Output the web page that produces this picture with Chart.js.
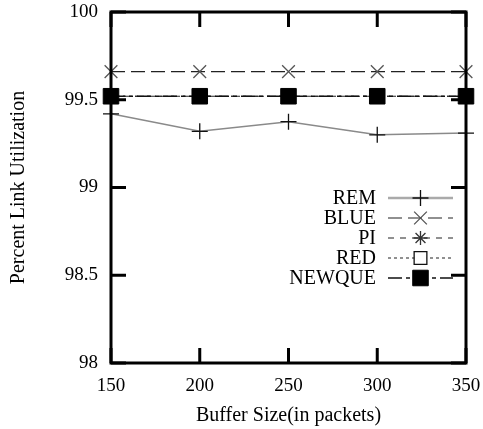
<!DOCTYPE html>
<html>
<head>
<meta charset="utf-8">
<script src="https://cdn.jsdelivr.net/npm/chart.js@4"></script>
<style>
  html, body { margin: 0; padding: 0; background: #fff; }
  #wrap { width: 483px; height: 429px; }
</style>
</head>
<body>
<div id="wrap"><canvas id="utilChart" width="483" height="429"></canvas></div>
<script>
// Buffer sizes on the x axis
const bufferSizes = [150, 200, 250, 300, 350];

// Percent link utilization per queue scheme
const remUtil = [99.42, 99.32, 99.375, 99.30, 99.31];
const blueUtil = [99.66, 99.66, 99.66, 99.66, 99.66];
const piUtil = [99.52, 99.52, 99.52, 99.52, 99.52];
const redUtil = [99.52, 99.52, 99.52, 99.52, 99.52];
const newqueUtil = [99.52, 99.52, 99.52, 99.52, 99.52];

const yTicks = [98, 98.5, 99, 99.5, 100];

const serif = '"Liberation Serif", "Times New Roman", serif';

function toPoints(values) {
  return bufferSizes.map((x, i) => ({ x: x, y: values[i] }));
}

// frame + inward ticks like the gnuplot original
const framePlugin = {
  id: "frame",
  afterDatasetsDraw(chart) {
    const { ctx, chartArea: a, scales } = chart;
    const len = 15;
    ctx.save();
    ctx.strokeStyle = "#000";
    ctx.lineWidth = 3;
    ctx.beginPath();
    bufferSizes.forEach((v) => {
      const px = scales.x.getPixelForValue(v);
      ctx.moveTo(px, a.bottom);
      ctx.lineTo(px, a.bottom - len);
      ctx.moveTo(px, a.top);
      ctx.lineTo(px, a.top + len);
    });
    yTicks.forEach((v) => {
      const py = scales.y.getPixelForValue(v);
      ctx.moveTo(a.left, py);
      ctx.lineTo(a.left + len, py);
      ctx.moveTo(a.right, py);
      ctx.lineTo(a.right - len, py);
    });
    ctx.stroke();
    ctx.strokeRect(a.left, a.top, a.right - a.left, a.bottom - a.top);
    ctx.restore();
  },
};

// legend: label on the left, sample line with marker on the right
const keyPlugin = {
  id: "key",
  afterDraw(chart) {
    const ctx = chart.ctx;
    const textRight = 376;
    const lineL = 388;
    const lineR = 453;
    const top = 198;
    const step = 20;
    ctx.save();
    chart.data.datasets.forEach((ds, i) => {
      const y = top + i * step;
      ctx.fillStyle = "#000";
      ctx.font = "20px " + serif;
      ctx.textAlign = "right";
      ctx.textBaseline = "middle";
      ctx.fillText(ds.label, textRight, y + 1);

      ctx.strokeStyle = ds.keyColor || ds.borderColor;
      ctx.lineWidth = ds.keyWidth || ds.borderWidth;
      ctx.setLineDash(ds.borderDash || []);
      ctx.beginPath();
      ctx.moveTo(lineL, y);
      ctx.lineTo(lineR, y);
      ctx.stroke();
      ctx.setLineDash([]);

      ctx.strokeStyle = ds.pointBorderColor;
      ctx.fillStyle = ds.pointBackgroundColor;
      ctx.lineWidth = ds.pointBorderWidth;
      Chart.helpers.drawPoint(ctx, {
        pointStyle: ds.pointStyle,
        radius: ds.pointRadius,
        rotation: 0,
        borderWidth: ds.pointBorderWidth,
      }, (lineL + lineR) / 2, y);
    });
    ctx.restore();
  },
};

const datasets = [
  {
    label: "REM",
    data: toPoints(remUtil),
    borderColor: "#8a8a8a",
    keyColor: "#aaaaaa",
    borderWidth: 1.5,
    keyWidth: 2.5,
    pointStyle: "cross",
    pointRadius: 8,
    pointBorderWidth: 1.3,
    pointBorderColor: "#111",
    pointBackgroundColor: "#111",
    order: 5,
  },
  {
    label: "BLUE",
    data: toPoints(blueUtil),
    borderColor: "#222",
    borderWidth: 1.2,
    borderDash: [14, 6],
    pointStyle: "crossRot",
    pointRadius: 9,
    pointBorderWidth: 1.3,
    pointBorderColor: "#555",
    pointBackgroundColor: "#555",
    order: 4,
  },
  {
    label: "PI",
    data: toPoints(piUtil),
    borderColor: "#222",
    borderWidth: 1.2,
    borderDash: [6, 6],
    pointStyle: "star",
    pointRadius: 7,
    pointBorderWidth: 1.3,
    pointBorderColor: "#333",
    pointBackgroundColor: "#333",
    order: 3,
  },
  {
    label: "RED",
    data: toPoints(redUtil),
    borderColor: "#222",
    borderWidth: 1.2,
    borderDash: [3, 3],
    pointStyle: "rect",
    pointRadius: 9,
    pointBorderWidth: 1.3,
    pointBorderColor: "#111",
    pointBackgroundColor: "#fff",
    order: 2,
  },
  {
    label: "NEWQUE",
    data: toPoints(newqueUtil),
    borderColor: "#111",
    borderWidth: 1.3,
    borderDash: [14, 4, 4, 4],
    pointStyle: "rect",
    pointRadius: 11,
    pointBorderWidth: 1,
    pointBorderColor: "#000",
    pointBackgroundColor: "#000",
    order: 1,
  },
];

const ctx = document.getElementById("utilChart").getContext("2d");

new Chart(ctx, {
  type: "line",
  data: { datasets: datasets.map((d) => Object.assign({ fill: false, tension: 0, clip: false, pointHoverRadius: d.pointRadius }, d)) },
  plugins: [framePlugin, keyPlugin],
  options: {
    responsive: false,
    animation: false,
    events: [],
    layout: { padding: { top: 11, right: 17, left: 0, bottom: 0 } },
    plugins: {
      legend: { display: false },
      tooltip: { enabled: false },
    },
    scales: {
      x: {
        type: "linear",
        min: 150,
        max: 350,
        afterFit: (scale) => {
          scale.height = 66;
          scale.paddingLeft = 0;
          scale.paddingRight = 0;
        },
        afterBuildTicks: (scale) => { scale.ticks = bufferSizes.map((v) => ({ value: v })); },
        grid: { display: false, drawTicks: false },
        border: { display: false },
        ticks: {
          padding: 12,
          color: "#000",
          font: { family: serif, size: 19 },
          maxRotation: 0,
        },
        title: {
          display: true,
          text: "Buffer Size(in packets)",
          color: "#000",
          font: { family: serif, size: 20 },
          padding: { top: 0, bottom: 1 },
        },
      },
      y: {
        min: 98,
        max: 100,
        afterFit: (scale) => {
          scale.width = 111;
          scale.paddingTop = 0;
          scale.paddingBottom = 0;
        },
        afterBuildTicks: (scale) => { scale.ticks = yTicks.map((v) => ({ value: v })); },
        grid: { display: false, drawTicks: false },
        border: { display: false },
        ticks: {
          padding: 13,
          color: "#000",
          font: { family: serif, size: 19 },
          callback: (value) => String(value),
        },
        title: {
          display: true,
          text: "Percent Link Utilization",
          color: "#000",
          font: { family: serif, size: 20 },
          padding: { top: 7, bottom: 0 },
        },
      },
    },
  },
});
</script>
</body>
</html>
